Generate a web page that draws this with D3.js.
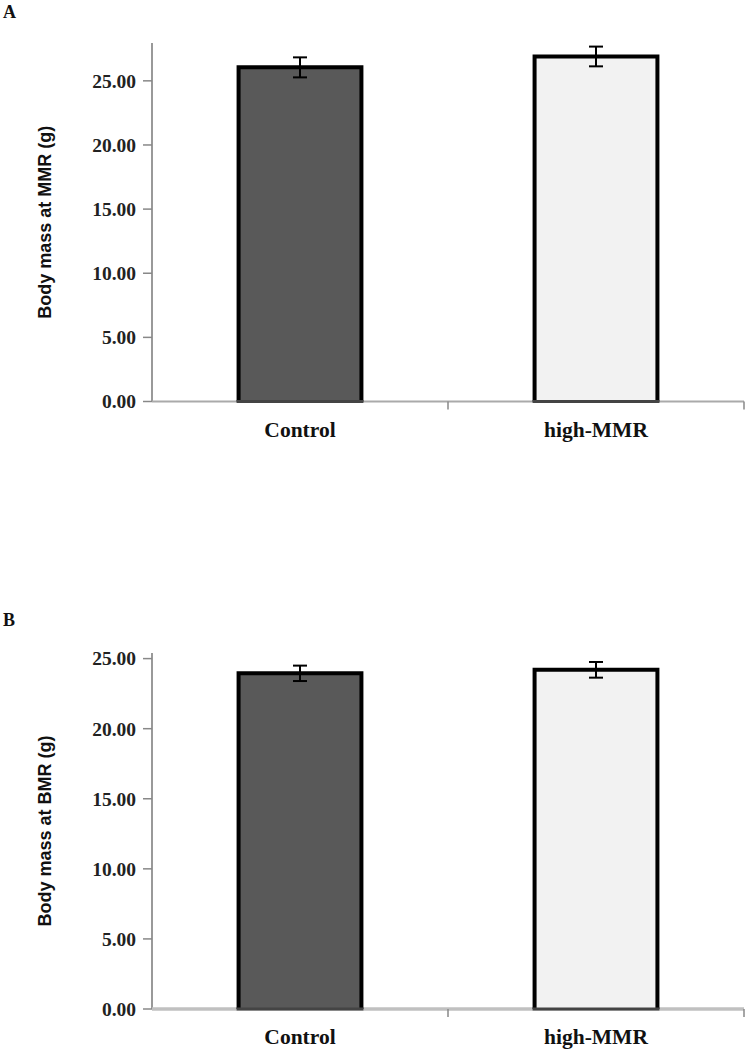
<!DOCTYPE html>
<html>
<head>
<meta charset="utf-8">
<script src="https://cdn.jsdelivr.net/npm/d3@7"></script>
<style>
  body { margin: 0; background: #fff; }
  .tick-label { font-family: "Liberation Serif", serif; font-weight: bold; font-size: 19.5px; fill: #222; }
  .cat-label { font-family: "Liberation Serif", serif; font-weight: bold; font-size: 21.5px; fill: #111; }
  .panel-letter { font-family: "Liberation Serif", serif; font-weight: bold; font-size: 18px; fill: #111; }
  .y-title { font-family: "Liberation Sans Narrow", "Liberation Sans", sans-serif; font-weight: bold; font-size: 18px; fill: #111; }
</style>
</head>
<body>
<svg id="chart" width="745" height="1050"></svg>
<script>
const categories = ['Control', 'high-MMR'];
const barColors = ['#595959', '#f2f2f2'];
const tickValues = [0, 5, 10, 15, 20, 25];

const mmrMeans = [26.05, 26.9];
const mmrErrors = [0.78, 0.77];
const bmrMeans = [23.95, 24.2];
const bmrErrors = [0.55, 0.56];

const PLOT_LEFT = 152;
const PLOT_RIGHT = 744;
const BAR_FRACTION = 0.415;

const svg = d3.select('#chart');

function drawPanel({ letter, letterY, title, means, errors, top, bottom, yMax, axisColor, axisWidth }) {
  const g = svg.append('g');

  const x = d3.scaleBand()
    .domain(categories)
    .range([PLOT_LEFT, PLOT_RIGHT])
    .padding(0);
  const y = d3.scaleLinear()
    .domain([0, yMax])
    .range([bottom, top]);

  const barWidth = x.bandwidth() * BAR_FRACTION;
  const data = categories.map((c, i) => ({ cat: c, mean: means[i], err: errors[i], color: barColors[i] }));

  // y axis
  g.append('line')
    .attr('x1', PLOT_LEFT).attr('x2', PLOT_LEFT)
    .attr('y1', y(yMax)).attr('y2', bottom)
    .attr('stroke', '#999').attr('stroke-width', 2);
  g.selectAll('.ytick')
    .data(tickValues)
    .enter()
      .append('line')
      .attr('x1', PLOT_LEFT - 9).attr('x2', PLOT_LEFT)
      .attr('y1', (d) => y(d)).attr('y2', (d) => y(d))
      .attr('stroke', '#888').attr('stroke-width', 1.5);
  g.selectAll('.tick-label')
    .data(tickValues)
    .enter()
      .append('text')
      .classed('tick-label', true)
      .attr('x', PLOT_LEFT - 16)
      .attr('y', (d) => y(d))
      .attr('dy', '0.35em')
      .attr('text-anchor', 'end')
      .text((d) => d.toFixed(2));

  // x axis
  g.append('line')
    .attr('x1', PLOT_LEFT).attr('x2', PLOT_RIGHT)
    .attr('y1', bottom).attr('y2', bottom)
    .attr('stroke', axisColor).attr('stroke-width', axisWidth);
  const bounds = [PLOT_LEFT, ...categories.map((c) => x(c) + x.bandwidth())];
  g.selectAll('.xtick')
    .data(bounds.slice(1))
    .enter()
      .append('line')
      .attr('x1', (d) => d).attr('x2', (d) => d)
      .attr('y1', bottom).attr('y2', bottom + 8)
      .attr('stroke', '#888').attr('stroke-width', 1.5);

  // bars
  const bars = g.selectAll('.bar')
    .data(data)
    .enter()
      .append('g')
      .attr('transform', (d) => `translate(${x(d.cat) + x.bandwidth() / 2 - barWidth / 2},0)`);
  bars.append('rect')
    .attr('x', 0)
    .attr('y', (d) => y(d.mean))
    .attr('width', barWidth)
    .attr('height', (d) => bottom - y(d.mean))
    .attr('fill', (d) => d.color);
  bars.append('path')
    .attr('d', (d) => `M0,${bottom}V${y(d.mean)}H${barWidth}V${bottom}`)
    .attr('fill', 'none')
    .attr('stroke', '#000')
    .attr('stroke-width', 4);
  bars.append('line')
    .attr('x1', -2).attr('x2', barWidth + 2)
    .attr('y1', bottom).attr('y2', bottom)
    .attr('stroke', '#444').attr('stroke-width', 3);

  // error bars
  const err = g.selectAll('.err')
    .data(data)
    .enter()
      .append('g')
      .attr('transform', (d) => `translate(${x(d.cat) + x.bandwidth() / 2},0)`)
      .attr('stroke', '#000')
      .attr('stroke-width', 2);
  err.append('line')
    .attr('y1', (d) => y(d.mean + d.err))
    .attr('y2', (d) => y(d.mean - d.err));
  err.append('line')
    .attr('x1', -7).attr('x2', 7)
    .attr('y1', (d) => y(d.mean + d.err))
    .attr('y2', (d) => y(d.mean + d.err));
  err.append('line')
    .attr('x1', -7).attr('x2', 7)
    .attr('y1', (d) => y(d.mean - d.err))
    .attr('y2', (d) => y(d.mean - d.err));

  // category labels
  g.selectAll('.cat-label')
    .data(categories)
    .enter()
      .append('text')
      .classed('cat-label', true)
      .attr('x', (d) => x(d) + x.bandwidth() / 2)
      .attr('y', bottom + 35)
      .attr('text-anchor', 'middle')
      .text((d) => d);

  // y title
  g.append('text')
    .classed('y-title', true)
    .attr('transform', `translate(51,${(y(yMax) + bottom) / 2}) rotate(-90)`)
    .attr('text-anchor', 'middle')
    .text(title);

  g.append('text')
    .classed('panel-letter', true)
    .attr('x', 3)
    .attr('y', letterY)
    .text(letter);
}

drawPanel({
  letter: 'A', letterY: 18,
  title: 'Body mass at MMR (g)',
  means: mmrMeans, errors: mmrErrors,
  top: 43, bottom: 401.5, yMax: 27.95,
  axisColor: '#aaa', axisWidth: 2,
});

drawPanel({
  letter: 'B', letterY: 626,
  title: 'Body mass at BMR (g)',
  means: bmrMeans, errors: bmrErrors,
  top: 653, bottom: 1009, yMax: 25.4,
  axisColor: '#c0c0c0', axisWidth: 3.5,
});
</script>
</body>
</html>
